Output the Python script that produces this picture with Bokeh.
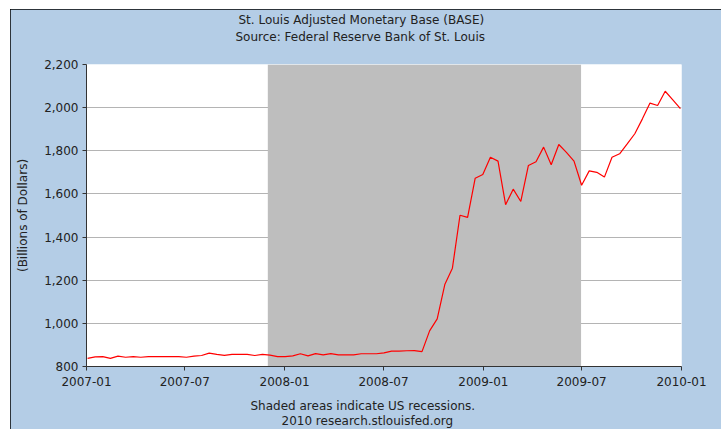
import pandas as pd
from bokeh.plotting import figure
from bokeh.models import (Title, BoxAnnotation, FixedTicker, DatetimeTickFormatter,
                          NumeralTickFormatter, Range1d, ColumnDataSource)
from bokeh.embed import file_html
from bokeh.resources import INLINE

# ---- data ----
title_lines = ["St. Louis Adjusted Monetary Base (BASE)",
               "Source: Federal Reserve Bank of St. Louis"]
footer_lines = ["Shaded areas indicate US recessions.",
                "2010 research.stlouisfed.org"]
y_label = "(Billions of Dollars)"

first_date = "2007-01-03"   # biweekly observations
base_values = [
    838, 845, 846, 838, 848, 843, 846, 843, 846, 846,
    846, 846, 846, 843, 848, 851, 862, 856, 852, 856,
    856, 856, 851, 856, 853, 846, 846, 849, 859, 849,
    860, 854, 860, 854, 854, 854, 859, 859, 859, 863,
    871, 871, 873, 874, 869, 965, 1021, 1180, 1256, 1501,
    1491, 1673, 1690, 1770, 1752, 1550, 1622, 1565, 1732, 1749,
    1817, 1735, 1829, 1793, 1752, 1640, 1707, 1700, 1678, 1770,
    1786, 1832, 1879, 1948, 2021, 2010, 2076, 2036, 1995,
]
dates = pd.date_range(first_date, periods=len(base_values), freq="14D")

recession_start = "2007-12-01"
recession_end = "2009-06-30"

x_start, x_end = "2007-01-01", "2010-01-01"
y_start, y_end = 800, 2200
x_tick_dates = ["2007-01-01", "2007-07-01", "2008-01-01", "2008-07-01",
                "2009-01-01", "2009-07-01", "2010-01-01"]
y_ticks = [800, 1000, 1200, 1400, 1600, 1800, 2000, 2200]

# ---- styling ----
panel_bg = "#b4cde6"
text_col = "#222222"
font = "DejaVu Sans"


def ms(s):
    return pd.Timestamp(s).value / 1e6


p = figure(width=711, height=420, output_backend="svg", toolbar_location=None,
           x_axis_type="datetime",
           x_range=Range1d(ms(x_start), ms(x_end)),
           y_range=Range1d(y_start, y_end),
           min_border_left=76, min_border_right=40,
           min_border_top=55, min_border_bottom=63)
p.margin = (9, 0, 0, 10)
p.styles = {"outline": "1px solid #000000", "outline-offset": "-1px"}
p.border_fill_color = panel_bg
p.background_fill_color = "white"
p.outline_line_color = None

# recession shading
shade = BoxAnnotation(left=ms(recession_start), right=ms(recession_end),
                      fill_color="#bebebe", fill_alpha=1.0, line_color=None,
                      level="underlay")
p.add_layout(shade)

src = ColumnDataSource(dict(date=dates, value=base_values))
p.line("date", "value", source=src, line_color="#ff0000", line_width=1.2)

# grid
p.xgrid.grid_line_color = None
p.ygrid.grid_line_color = "#b4b4b4"
p.ygrid.ticker = FixedTicker(ticks=y_ticks)

# axes
p.xaxis.ticker = FixedTicker(ticks=[ms(d) for d in x_tick_dates])
fmt = "%Y-%m"
p.xaxis.formatter = DatetimeTickFormatter(
    microseconds=fmt, milliseconds=fmt, seconds=fmt, minsec=fmt, minutes=fmt,
    hourmin=fmt, hours=fmt, days=fmt, months=fmt, years=fmt)
p.yaxis.ticker = FixedTicker(ticks=y_ticks)
p.yaxis.formatter = NumeralTickFormatter(format="0,0")

for ax in (p.xaxis[0], p.yaxis[0]):
    ax.axis_line_color = "#333333"
    ax.axis_line_width = 1
    ax.major_tick_line_color = "#333333"
    ax.major_tick_out = 4
    ax.major_tick_in = 0
    ax.minor_tick_line_color = None
    ax.major_label_text_font = font
    ax.major_label_text_font_size = "12px"
    ax.major_label_text_color = text_col
    ax.major_label_standoff = 4
p.xaxis.major_label_standoff = 6

p.yaxis.axis_label = y_label
p.yaxis.axis_label_text_font = font
p.yaxis.axis_label_text_font_size = "12px"
p.yaxis.axis_label_text_font_style = "normal"
p.yaxis.axis_label_text_color = text_col
p.yaxis.axis_label_standoff = 11

# invisible spacer under the tick labels, so the footers sit lower
p.xaxis.axis_label = " "
p.xaxis.axis_label_text_font_size = "1px"
p.xaxis.axis_label_standoff = 3


def make_title(text, offset, standoff, valign="bottom", size="12px"):
    return Title(text=text, align="left", offset=offset, standoff=standoff,
                 vertical_align=valign,
                 text_font=font, text_font_size=size, text_font_style="normal",
                 text_color=text_col)


# above: spacer nearest the frame, then the two title lines
p.add_layout(make_title(" ", 0, 17, size="1px"), "above")
p.add_layout(make_title(title_lines[1], 149, 2), "above")
p.add_layout(make_title(title_lines[0], 152, 0), "above")
# below: footers (first added is nearest the frame)
p.add_layout(make_title(footer_lines[0], 164, 2, "bottom"), "below")
p.add_layout(make_title(footer_lines[1], 195, 0, "top"), "below")

open("out.html", "w").write(file_html(p, INLINE))
